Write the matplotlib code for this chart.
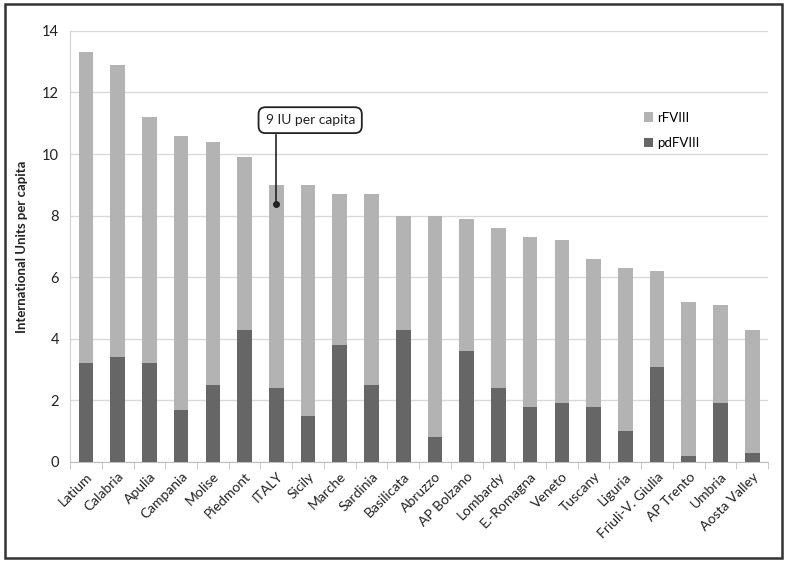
import numpy as np
import matplotlib.pyplot as plt
from matplotlib.patches import Rectangle

plt.rcParams['font.family'] = ['Lato', 'DejaVu Sans']

regions = ['Latium', 'Calabria', 'Apulia', 'Campania', 'Molise', 'Piedmont', 'ITALY',
           'Sicily', 'Marche', 'Sardinia', 'Basilicata', 'Abruzzo', 'AP Bolzano',
           'Lombardy', 'E.-Romagna', 'Veneto', 'Tuscany', 'Liguria',
           'Friuli-V. Giulia', 'AP Trento', 'Umbria', 'Aosta Valley']
pdFVIII = [3.2, 3.4, 3.2, 1.7, 2.5, 4.3, 2.4, 1.5, 3.8, 2.5, 4.3, 0.8, 3.6,
           2.4, 1.8, 1.9, 1.8, 1.0, 3.1, 0.2, 1.9, 0.3]
rFVIII = [10.1, 9.5, 8.0, 8.9, 7.9, 5.6, 6.6, 7.5, 4.9, 6.2, 3.7, 7.2, 4.3,
          5.2, 5.5, 5.3, 4.8, 5.3, 3.1, 5.0, 3.2, 4.0]
yticks = [0, 2, 4, 6, 8, 10, 12, 14]

fig = plt.figure(figsize=(7.87, 5.61), dpi=100)
ax = fig.add_axes([0.089, 0.1765, 0.887, 0.7685])

x = np.arange(len(regions))
ax.bar(x, pdFVIII, width=0.46, color='#666666', label='pdFVIII', zorder=3)
ax.bar(x, rFVIII, width=0.46, bottom=pdFVIII, color='#b3b3b3', label='rFVIII', zorder=3)

ax.set_xlim(-0.5, len(regions) - 0.5)
ax.set_ylim(0, 14)
ax.set_yticks(yticks)
ax.tick_params(axis='y', length=0, labelsize=10.5, pad=8, labelcolor='#222222')
ax.yaxis.grid(True, color='#d9d9d9', linewidth=1, zorder=0)

ax.set_xticks(x)
ax.set_xticklabels(regions, rotation=45, ha='right', rotation_mode='anchor',
                   fontsize=10, color='#222222')
ax.set_xticks(np.arange(len(regions) + 1) - 0.5, minor=True)
ax.tick_params(axis='x', which='major', length=0, pad=6)
ax.tick_params(axis='x', which='minor', length=5, color='#bfbfbf', direction='out')

for s in ['top', 'right']:
    ax.spines[s].set_visible(False)
ax.spines['left'].set_color('#d0d0d0')
ax.spines['bottom'].set_color('#bfbfbf')

ax.set_ylabel('International Units per capita', fontsize=9.5, fontweight='bold',
              color='#222222', labelpad=10)

# callout for the national value
ax.plot([6, 6], [8.38, 10.62], color='#222222', lw=1.2, zorder=5)
ax.plot([6], [8.38], 'o', color='#222222', markersize=4, zorder=5)
ax.text(5.66, 11.1, '9 IU per capita', fontsize=10, ha='left', va='center',
        color='#222222', zorder=6,
        bbox=dict(boxstyle='round,pad=0.5', fc='white', ec='#222222', lw=1.3))

handles, labels = ax.get_legend_handles_labels()
ax.legend(handles[::-1], labels[::-1], loc='upper left', bbox_to_anchor=(0.805, 0.84),
          frameon=False, fontsize=9.5, handlelength=0.7, handleheight=0.7,
          handletextpad=0.3, labelspacing=1.0)

fig.patches.append(Rectangle((0.006, 0.006), 0.988, 0.987, transform=fig.transFigure,
                             fill=False, edgecolor='#333333', linewidth=1.8))

fig.savefig('out.png', dpi=100)
